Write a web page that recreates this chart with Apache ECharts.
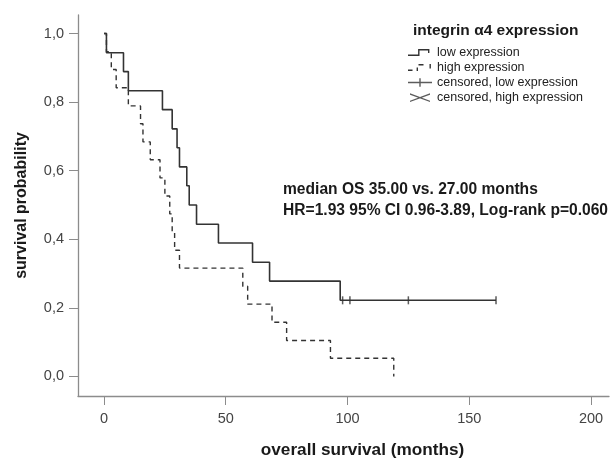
<!DOCTYPE html>
<html>
<head>
<meta charset="utf-8">
<script src="https://cdn.jsdelivr.net/npm/echarts@6/dist/echarts.min.js"></script>
<style>html,body{margin:0;padding:0;background:#fff}#c{width:610px;height:458px}</style>
</head>
<body>
<div id="c"></div>
<script>
// Kaplan-Meier data
const lowTimes = [0, 1, 8, 10, 24, 28, 30, 31, 34, 35, 38, 47, 61, 68, 97, 161];
const lowSurv  = [1, 0.944, 0.889, 0.833, 0.778, 0.722, 0.667, 0.611, 0.556, 0.5, 0.444, 0.389, 0.333, 0.278, 0.222, 0.222];
const lowCensTimes = [98, 101, 125, 161];
const lowCensSurv  = [0.222, 0.222, 0.222, 0.222];
const highTimes = [0, 1, 3, 5, 10, 15, 16, 19, 23, 25, 27, 28, 29, 31, 57, 59, 69, 75, 93, 119];
const highSurv  = [1, 0.947, 0.895, 0.842, 0.789, 0.737, 0.684, 0.632, 0.579, 0.526, 0.474, 0.421, 0.368, 0.316, 0.263, 0.211, 0.158, 0.105, 0.053, 0];
const highCensTimes = [];
const highCensSurv = [];
const xTicks = [0, 50, 100, 150, 200];
const yTicks = [0, 0.2, 0.4, 0.6, 0.8, 1.0];
const seriesNames = ['low expression', 'high expression', 'censored, low expression', 'censored, high expression'];
const legendTitle = 'integrin α4 expression';
const noteLines = ['median OS 35.00 vs. 27.00 months', 'HR=1.93 95% CI 0.96-3.89, Log-rank p=0.060'];

const FONT = '"Liberation Sans", Arial, sans-serif';
const zip = (a, b) => a.map((v, i) => [v, b[i]]);

const icons = {
  low: 'path://M0,0 M24,12 M0,8h11.5v1.4h-11.5z M10.1,2.6h1.4v6.8h-1.4z M10.1,2.6h10.9v1.4h-10.9z M20,2.6h1.4v4h-1.4z',
  high: 'path://M0,0 M24,12 M0,8h4.5v1.4h-4.5z M8.6,6h1.4v3.4h-1.4z M10.5,2.6h5v1.4h-5z M21.5,2.6h1.4v4.5h-1.4z',
  cLow: 'path://M0,0 M24,12 M0,5.3h24v1.4h-24z M11.3,1.8h1.4v8.4h-1.4z',
  cHigh: 'path://M0,0 M24,12 M2,1.8L22,9.2L22,10.6L2,3.2Z M2,9.2L22,1.8L22,3.2L2,10.6Z'
};

const chart = echarts.init(document.getElementById('c'), null, {renderer: 'canvas'});
chart.setOption({
  animation: false,
  backgroundColor: '#fff',
  textStyle: {fontFamily: FONT},
  title: {
    text: legendTitle, left: 413, top: 23, padding: 0,
    textStyle: {fontFamily: FONT, fontSize: 15.5, fontWeight: 'bold', color: '#1a1a1a'}
  },
  legend: {
    orient: 'vertical', left: 408, top: 46, padding: 0,
    itemWidth: 24, itemHeight: 12, itemGap: 2,
    textStyle: {fontFamily: FONT, fontSize: 12.5, color: '#222', lineHeight: 12},
    itemStyle: {color: '#333', borderWidth: 0},
    data: [
      {name: seriesNames[0], icon: icons.low},
      {name: seriesNames[1], icon: icons.high},
      {name: seriesNames[2], icon: icons.cLow},
      {name: seriesNames[3], icon: icons.cHigh}
    ]
  },
  grid: {left: 78, right: 1, top: 15, bottom: 62, containLabel: false, outerBoundsMode: 'none'},
  xAxis: {
    type: 'value', min: -10.68, max: 207.4,
    name: 'overall survival (months)', nameLocation: 'middle', nameGap: 46,
    nameTextStyle: {fontFamily: FONT, fontSize: 17.2, fontWeight: 'bold', color: '#1a1a1a', padding: [0, 0, 0, 38]},
    axisLine: {show: true, onZero: false, lineStyle: {color: '#8c8c8c', width: 1.3}},
    axisTick: {show: true, length: 9, customValues: xTicks, lineStyle: {color: '#8c8c8c', width: 1}},
    axisLabel: {customValues: xTicks, margin: 15, fontFamily: FONT, fontSize: 14.5, color: '#444'},
    splitLine: {show: false}
  },
  yAxis: {
    type: 'value', min: -0.057, max: 1.054,
    name: 'survival probability', nameLocation: 'middle', nameGap: 48, nameRotate: 90,
    nameTextStyle: {fontFamily: FONT, fontSize: 16, fontWeight: 'bold', color: '#1a1a1a'},
    axisLine: {show: true, onZero: false, lineStyle: {color: '#8c8c8c', width: 1.3}},
    axisTick: {show: true, length: 9, customValues: yTicks, lineStyle: {color: '#8c8c8c', width: 1}},
    axisLabel: {customValues: yTicks, margin: 14, fontFamily: FONT, fontSize: 14.5, color: '#444',
      formatter: v => v.toFixed(1).replace('.', ',')},
    splitLine: {show: false}
  },
  graphic: [
    {type: 'text', left: 283, top: 182, style: {text: noteLines[0], font: 'bold 15.6px ' + FONT, fill: '#1a1a1a'}},
    {type: 'text', left: 283, top: 203, style: {text: noteLines[1], font: 'bold 15.6px ' + FONT, fill: '#1a1a1a'}}
  ],
  series: [
    {name: seriesNames[0], type: 'line', step: 'end', data: zip(lowTimes, lowSurv), showSymbol: false, symbol: 'none',
      itemStyle: {color: '#333'}, lineStyle: {color: '#333', width: 1.6}, z: 3},
    {name: seriesNames[1], type: 'line', step: 'end', data: zip(highTimes, highSurv), showSymbol: false, symbol: 'none',
      itemStyle: {color: '#333'}, lineStyle: {color: '#333', width: 1.4, type: [5, 4]}, z: 2},
    {name: seriesNames[2], type: 'scatter', data: zip(lowCensTimes, lowCensSurv), symbol: 'rect', symbolSize: [1.5, 8],
      itemStyle: {color: '#333'}, z: 4},
    {name: seriesNames[3], type: 'scatter', data: zip(highCensTimes, highCensSurv), symbol: 'rect', symbolSize: [1.5, 8],
      itemStyle: {color: '#333'}, z: 4}
  ]
});
</script>
</body>
</html>
